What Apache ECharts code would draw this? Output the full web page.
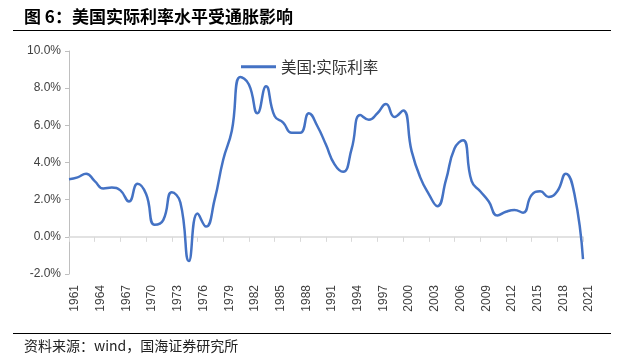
<!DOCTYPE html>
<html>
<head>
<meta charset="utf-8">
<script src="https://cdn.jsdelivr.net/npm/echarts@6/dist/echarts.min.js"></script>
<style>
  html, body { margin: 0; padding: 0; background: #fff; }
  #chart { width: 625px; height: 364px; }
</style>
</head>
<body>
<div id="chart"></div>
<script>
var years = [];
for (var y = 1961; y <= 2021; y++) years.push(String(y));

// 美国实际利率 (%)
var realRate = [
  3.1, 3.2, 3.4, 3.0, 2.6, 2.65, 2.5, 1.9, 2.85, 2.3,
  0.65, 0.9, 2.4, 1.85, -1.3, 1.25, 0.55, 2.0, 4.15, 5.7,
  8.6, 8.2, 6.65, 8.1, 6.5, 6.15, 5.6, 5.6, 6.65, 5.95,
  4.95, 3.9, 3.5, 4.75, 6.55, 6.3, 6.65, 7.15, 6.45, 6.8,
  4.6, 3.2, 2.3, 1.65, 3.05, 4.75, 5.2, 3.0, 2.45, 1.9,
  1.15, 1.35, 1.45, 1.3, 2.25, 2.45, 2.15, 2.45, 3.4, 2.3,
  -1.2
];

var yMin = -2, yMax = 10, yStep = 2;

var chart = echarts.init(document.getElementById('chart'));

var option = {
    animation: false,
    color: ['#4472C4'],
    grid: {
        left: 69,
        right: 42,
        top: 51,
        bottom: 90
    },
    legend: {
        left: 236,
        top: 54,
        icon: 'rect',
        itemWidth: 35,
        itemHeight: 3,
        itemGap: 6,
        textStyle: {
            fontFamily: 'Noto Sans CJK SC',
            fontSize: 15.5,
            color: '#333'
        },
        data: ['美国:实际利率']
    },
    xAxis: {
        type: 'category',
        data: years,
        boundaryGap: false,
        axisLine: {
            onZero: true,
            lineStyle: { color: '#d9d9d9', width: 1.5 }
        },
        axisTick: {
            interval: 2,
            length: 5,
            lineStyle: { color: '#d9d9d9' }
        },
        axisLabel: {
            interval: 2,
            rotate: 90,
            margin: 11,
            verticalAlign: 'top',
            fontFamily: 'Liberation Sans',
            fontSize: 12,
            color: '#404040'
        }
    },
    yAxis: {
        type: 'value',
        min: yMin,
        max: yMax,
        interval: yStep,
        axisLine: {
            show: true,
            lineStyle: { color: '#bfbfbf' }
        },
        axisTick: {
            show: true,
            length: 4,
            lineStyle: { color: '#bfbfbf' }
        },
        splitLine: { show: false },
        axisLabel: {
            margin: 8,
            fontFamily: 'Liberation Sans',
            fontSize: 12,
            color: '#404040',
            formatter: function (v) { return v.toFixed(1) + '%'; }
        }
    },
    series: [
        {
            name: '美国:实际利率',
            type: 'line',
            data: realRate,
            smooth: true,
            symbol: 'none',
            itemStyle: { color: '#4472C4' },
            lineStyle: { width: 2.5, color: '#4472C4' }
        }
    ],
    graphic: [
        {
            type: 'text',
            left: 24,
            top: 8,
            style: {
                text: '图 6：美国实际利率水平受通胀影响',
                fontFamily: 'Noto Sans CJK SC',
                fontWeight: 'bold',
                fontSize: 17,
                fill: '#000'
            }
        },
        {
            type: 'line',
            shape: { x1: 13, y1: 30.5, x2: 611, y2: 30.5 },
            style: { stroke: '#000', lineWidth: 1 }
        },
        {
            type: 'line',
            shape: { x1: 13, y1: 333.5, x2: 611, y2: 333.5 },
            style: { stroke: '#000', lineWidth: 1 }
        },
        {
            type: 'text',
            left: 24,
            top: 339,
            style: {
                text: '资料来源：wind，国海证券研究所',
                fontFamily: 'Noto Sans CJK SC',
                fontSize: 14,
                fill: '#222'
            }
        }
    ]
};

chart.setOption(option);
</script>
</body>
</html>
